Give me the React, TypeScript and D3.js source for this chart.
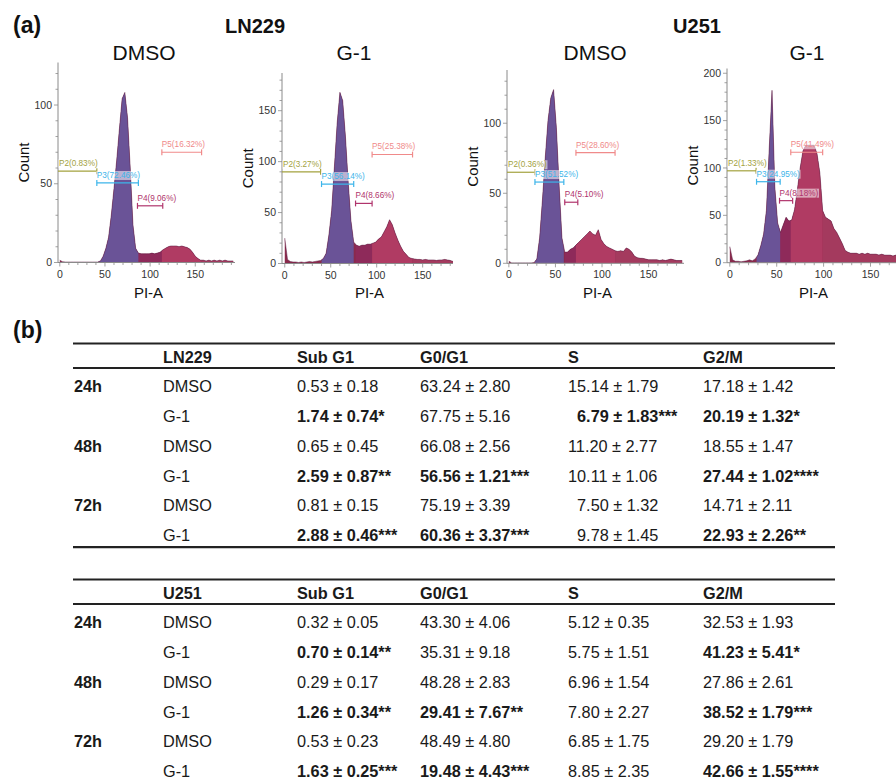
/* eslint-disable */
import React, { useEffect, useRef } from 'react';
import * as d3 from 'd3';

// ------- Histogram data (counts per 3-unit PI-A bin, starting at 0) -------
const BIN = 3;

const ln229DmsoCounts = [
  1.5, 0.5, 0.3, 0.3, 0.3, 0.3, 0.3, 0.3, 0.3, 0.3, 0.3, 0.3, 0.3, 0.3, 0.3, 1, 4, 9, 16, 30, 47, 65,
  85, 104, 108, 92, 60, 24, 9, 6, 5.5, 5.5, 5.5, 5.5, 6, 5.5, 6, 6.5, 8, 9, 10, 10.5, 10.5, 10.5, 10,
  10.5, 10, 9.5, 8.5, 6.5, 4, 2.5, 1.5, 1.5, 1, 1.5, 1, 1.5, 1, 1.5, 1, 1.5, 1, 1, 1,
];

const ln229G1Counts = [
  25, 4, 2, 1.5, 1.5, 1, 1.5, 1, 1.5, 2, 1.5, 2, 2.5, 3, 5, 10, 28, 52, 95, 138, 168, 160, 125, 80,
  42, 21, 18, 17, 18, 18, 19, 19, 20, 21, 24, 26, 31, 36, 43, 38, 30, 23, 17, 12, 9, 6, 5, 4.5, 4, 4,
  3.5, 4, 3.5, 3.5, 3.5, 3, 3.5, 3.5, 4, 3.5, 3, 2,
];

const u251DmsoCounts = [
  1.5, 0.3, 0.3, 0.3, 0.3, 0.3, 0.3, 0.3, 0.3, 0.5, 3, 18, 45, 75, 102, 118, 124, 97, 55, 18, 8, 8,
  10, 11, 13, 15, 17, 19, 21, 23, 21, 20, 24, 17, 14, 12, 11, 10, 9, 8.5, 9, 8.5, 11, 10, 8, 5, 4,
  3.6, 3.5, 3, 2.5, 2.5, 2.5, 2.5, 2, 2.5, 2, 2.5, 3, 2.5, 2, 2, 2,
];

const u251G1Counts = [
  17, 3, 1.5, 1.5, 1, 1.5, 2, 3, 2, 4, 8, 18, 30, 55, 120, 182, 80, 42, 32, 40, 48, 44, 45, 56, 77,
  100, 118, 124, 124, 124, 124, 115, 95, 55, 48, 46, 44, 36, 32, 26, 20, 13, 11, 10, 10, 10, 9, 10, 9,
  10, 9, 9, 9, 8, 9, 8, 8, 8, 7, 8, 7, 7, 7, 6,
];

// ------- Gates: [start, end, marker height (count), percent] -------
const gateNames = ['P2', 'P3', 'P4', 'P5'];
const ln229DmsoGates = [[-2, 41, 58, '0.83'], [41, 87, 50.5, '72.46'], [86, 114, 36, '9.06'], [113, 157, 70, '16.32']];
const ln229G1Gates = [[-3, 39, 90, '3.27'], [40, 75, 78, '56.14'], [77, 95, 59, '8.66'], [95, 139, 107, '25.38']];
const u251DmsoGates = [[-2, 28, 65, '0.36'], [28, 59, 58, '51.52'], [60, 74, 43.6, '5.10'], [72, 114, 79, '28.60']];
const u251G1Gates = [[-3, 28, 97, '1.33'], [28.5, 53.7, 85.5, '24.95'], [53, 67, 65.5, '8.18'], [65, 99, 116.6, '41.49']];

const panelTitles = ['DMSO', 'G-1', 'DMSO', 'G-1'];
const cellLines = ['LN229', 'U251'];
const xTickValues = [0, 50, 100, 150];

// ------- Table data -------
const phaseHeaders = ['Sub G1', 'G0/G1', 'S', 'G2/M'];
const timePoints = ['24h', '48h', '72h'];
const treatments = ['DMSO', 'G-1'];

// leading space = value padded by one digit
const ln229Values = [
  ['0.53 ± 0.18', '63.24 ± 2.80', '15.14 ± 1.79', '17.18 ± 1.42'],
  ['1.74 ± 0.74*', '67.75 ± 5.16', ' 6.79 ± 1.83***', '20.19 ± 1.32*'],
  ['0.65 ± 0.45', '66.08 ± 2.56', '11.20 ± 2.77', '18.55 ± 1.47'],
  ['2.59 ± 0.87**', '56.56 ± 1.21***', '10.11 ± 1.06', '27.44 ± 1.02****'],
  ['0.81 ± 0.15', '75.19 ± 3.39', ' 7.50 ± 1.32', '14.71 ± 2.11'],
  ['2.88 ± 0.46***', '60.36 ± 3.37***', ' 9.78 ± 1.45', '22.93 ± 2.26**'],
];

const u251Values = [
  ['0.32 ± 0.05', '43.30 ± 4.06', '5.12 ± 0.35', '32.53 ± 1.93'],
  ['0.70 ± 0.14**', '35.31 ± 9.18', '5.75 ± 1.51', '41.23 ± 5.41*'],
  ['0.29 ± 0.17', '48.28 ± 2.83', '6.96 ± 1.54', '27.86 ± 2.61'],
  ['1.26 ± 0.34**', '29.41 ± 7.67**', '7.80 ± 2.27', '38.52 ± 1.79***'],
  ['0.53 ± 0.23', '48.49 ± 4.80', '6.85 ± 1.75', '29.20 ± 1.79'],
  ['1.63 ± 0.25***', '19.48 ± 4.43***', '8.85 ± 2.35', '42.66 ± 1.55****'],
];

const FONT = "'Liberation Sans', Arial, Helvetica, sans-serif";

const gateColors = ['#a3a23e', '#3db5ea', '#b0346c', '#f08a8a'];
const regionColors = { sub: '#8a2a4c', p3: '#6a5397', p4: '#8e2a5a', p5: '#b03b63', post: '#a43a5e' };

const panelLayout = [
  { left: 58, right: 235, top: 62.5, bottom: 262.5, xMin: -2, xMax: 194, yMax: 127, titleX: 144 },
  { left: 282, right: 453, top: 73, bottom: 263.5, xMin: -3, xMax: 183, yMax: 187, titleX: 354 },
  { left: 507, right: 684, top: 70, bottom: 263.3, xMin: -2, xMax: 188, yMax: 138, titleX: 595 },
  { left: 727, right: 908, top: 68.5, bottom: 262.7, xMin: -3, xMax: 190, yMax: 205, titleX: 807 },
];

const CellCycleFigure = () => {
  const ref = useRef<SVGSVGElement>(null);

  useEffect(() => {
    if (!ref.current) return;
    document.body.style.margin = '0';
    const svg = d3.select(ref.current);
    svg.selectAll('*').remove();

    const panels = [
      { counts: ln229DmsoCounts, gates: ln229DmsoGates },
      { counts: ln229G1Counts, gates: ln229G1Gates },
      { counts: u251DmsoCounts, gates: u251DmsoGates },
      { counts: u251G1Counts, gates: u251G1Gates },
    ];

    // ------- Panel labels -------
    svg.append('text').attr('x', 13).attr('y', 33).attr('font-family', FONT)
      .attr('font-size', 23).attr('font-weight', 'bold').attr('fill', '#111').text('(a)');
    svg.append('text').attr('x', 13).attr('y', 338).attr('font-family', FONT)
      .attr('font-size', 23).attr('font-weight', 'bold').attr('fill', '#111').text('(b)');

    [255, 697].forEach((cx, i) => {
      svg.append('text').attr('x', cx).attr('y', 33).attr('text-anchor', 'middle')
        .attr('font-family', FONT).attr('font-size', 20).attr('font-weight', 'bold')
        .attr('fill', '#111').text(cellLines[i]);
    });

    // ------- Histograms -------
    panels.forEach((p, pi) => {
      const L = panelLayout[pi];
      const g = svg.append('g');

      const x = d3.scaleLinear().domain([L.xMin, L.xMax]).range([L.left, L.right]);
      const y = d3.scaleLinear().domain([0, L.yMax]).range([L.bottom, L.top]);

      const pts = p.counts.map((c, i) => ({ v: i * BIN, c }));
      const area = d3.area<{ v: number; c: number }>()
        .x((d) => x(d.v))
        .y0(y(0))
        .y1((d) => y(d.c));
      const line = d3.line<{ v: number; c: number }>()
        .x((d) => x(d.v))
        .y((d) => y(d.c));

      const [, p3, p4, p5] = p.gates as any[];
      const regions = [
        { from: L.xMin, to: L.xMax, color: regionColors.sub },
        { from: p5[1], to: L.xMax, color: regionColors.post },
        { from: p4[0], to: p4[1], color: regionColors.p4 },
        { from: p5[0], to: p5[1], color: regionColors.p5 },
        { from: p3[0], to: p3[1], color: regionColors.p3 },
      ];

      regions.forEach((r, ri) => {
        const id = `clip-${pi}-${ri}`;
        g.append('clipPath').attr('id', id).append('rect')
          .attr('x', x(r.from)).attr('y', L.top - 10)
          .attr('width', Math.max(0, x(r.to) - x(r.from)))
          .attr('height', L.bottom - L.top + 10);
        g.append('path').datum(pts).attr('clip-path', `url(#${id})`)
          .attr('fill', r.color).attr('d', area);
      });

      g.append('path').datum(pts).attr('fill', 'none')
        .attr('stroke', '#5e1f45').attr('stroke-width', 0.7).attr('stroke-opacity', 0.7)
        .attr('d', line);

      // ------- Axes -------
      const axisColor = '#8a8a8a';
      g.append('line').attr('x1', L.left).attr('x2', L.left).attr('y1', L.top).attr('y2', L.bottom)
        .attr('stroke', axisColor).attr('stroke-width', 1);
      g.append('line').attr('x1', L.left).attr('x2', L.right).attr('y1', L.bottom).attr('y2', L.bottom)
        .attr('stroke', axisColor).attr('stroke-width', 1);

      const yTicks = d3.range(0, L.yMax, 10);
      yTicks.forEach((t) => {
        const major = t % 50 === 0;
        g.append('line').attr('x1', L.left - (major ? 4 : 2.5)).attr('x2', L.left)
          .attr('y1', y(t)).attr('y2', y(t)).attr('stroke', axisColor).attr('stroke-width', 0.8);
        if (major) {
          g.append('text').attr('x', L.left - 6).attr('y', y(t)).attr('dy', '0.35em')
            .attr('text-anchor', 'end').attr('font-family', FONT).attr('font-size', 10.5)
            .attr('fill', '#333').text(t);
        }
      });

      const xTicks = d3.range(0, L.xMax, 10);
      xTicks.forEach((t) => {
        const major = xTickValues.includes(t);
        g.append('line').attr('x1', x(t)).attr('x2', x(t))
          .attr('y1', L.bottom).attr('y2', L.bottom + (major ? 4 : 2.5))
          .attr('stroke', axisColor).attr('stroke-width', 0.8);
        if (major) {
          g.append('text').attr('x', x(t)).attr('y', L.bottom + 15)
            .attr('text-anchor', 'middle').attr('font-family', FONT).attr('font-size', 10.5)
            .attr('fill', '#333').text(t);
        }
      });

      // ------- Gates -------
      (p.gates as any[]).forEach((gate, gi) => {
        const [s, e, lvl, pct] = gate;
        const col = gateColors[gi];
        const gy = y(lvl);
        g.append('line').attr('x1', x(s)).attr('x2', x(e)).attr('y1', gy).attr('y2', gy)
          .attr('stroke', col).attr('stroke-width', 1.2);
        const caps = gi === 0 ? [e] : [s, e];
        caps.forEach((c) => {
          g.append('line').attr('x1', x(c)).attr('x2', x(c)).attr('y1', gy - 3).attr('y2', gy + 3)
            .attr('stroke', col).attr('stroke-width', 1.2);
        });
        const lx = gi === 0 ? L.left + 1 : x(s);
        const bg = g.append('rect').attr('fill', '#fff').attr('fill-opacity', 0.55);
        const txt = g.append('text').attr('x', lx).attr('y', gy - 5)
          .attr('font-family', FONT).attr('font-size', 8.2).attr('fill', col)
          .text(`${gateNames[gi]}(${pct}%)`);
        const bb = (txt.node() as SVGTextElement).getBBox();
        bg.attr('x', bb.x - 0.5).attr('y', bb.y).attr('width', bb.width + 1).attr('height', bb.height);
      });

      // ------- Titles / labels -------
      svg.append('text').attr('x', L.titleX).attr('y', 60).attr('text-anchor', 'middle')
        .attr('font-family', FONT).attr('font-size', 21).attr('fill', '#111').text(panelTitles[pi]);
      const cy = (L.top + L.bottom) / 2;
      svg.append('text').attr('transform', `translate(${L.left - 29},${cy}) rotate(-90)`)
        .attr('text-anchor', 'middle').attr('font-family', FONT).attr('font-size', 15)
        .attr('fill', '#111').text('Count');
      svg.append('text').attr('x', (L.left + Math.min(L.right, 896)) / 2 + 2).attr('y', 298)
        .attr('text-anchor', 'middle').attr('font-family', FONT).attr('font-size', 15)
        .attr('fill', '#111').text('PI-A');
    });

    // ------- Tables -------
    const tableLeft = 73;
    const tableRight = 835;
    const colX = [74, 163, 297, 420, 568, 703];
    const rowStep = 29.85;
    const fs = 16.3;
    const digitW = 0.556 * fs;

    const tables = [
      { name: cellLines[0], values: ln229Values, top: 343.5 },
      { name: cellLines[1], values: u251Values, top: 579.5 },
    ];

    tables.forEach((tb) => {
      const g = svg.append('g').attr('font-family', FONT).attr('font-size', fs).attr('fill', '#1a1a1a');
      const headLine = tb.top + 24.5;
      g.append('line').attr('x1', tableLeft).attr('x2', tableRight).attr('y1', tb.top).attr('y2', tb.top)
        .attr('stroke', '#222').attr('stroke-width', 2.2);
      g.append('line').attr('x1', tableLeft).attr('x2', tableRight).attr('y1', headLine).attr('y2', headLine)
        .attr('stroke', '#222').attr('stroke-width', 2);
      g.append('line').attr('x1', tableLeft).attr('x2', tableRight)
        .attr('y1', headLine + 6 * rowStep).attr('y2', headLine + 6 * rowStep)
        .attr('stroke', '#222').attr('stroke-width', 2.2);

      const headY = tb.top + 19.5;
      [tb.name, ...phaseHeaders].forEach((h, i) => {
        g.append('text').attr('x', colX[i + 1]).attr('y', headY).attr('font-weight', 'bold').text(h);
      });

      tb.values.forEach((row, ri) => {
        const by = headLine + 24 + ri * rowStep;
        if (ri % 2 === 0) {
          g.append('text').attr('x', colX[0]).attr('y', by).attr('font-weight', 'bold')
            .text(timePoints[ri / 2]);
        }
        g.append('text').attr('x', colX[1]).attr('y', by).text(treatments[ri % 2]);
        row.forEach((val, ci) => {
          const padded = val.startsWith(' ');
          g.append('text').attr('x', colX[ci + 2] + (padded ? digitW : 0)).attr('y', by)
            .attr('font-weight', val.includes('*') ? 'bold' : 'normal')
            .text(val.trim());
        });
      });
    });
  }, []);

  return <svg ref={ref} width={896} height={780} style={{ display: 'block', background: '#fff' }} />;
};

export default function App() {
  return <CellCycleFigure />;
}
